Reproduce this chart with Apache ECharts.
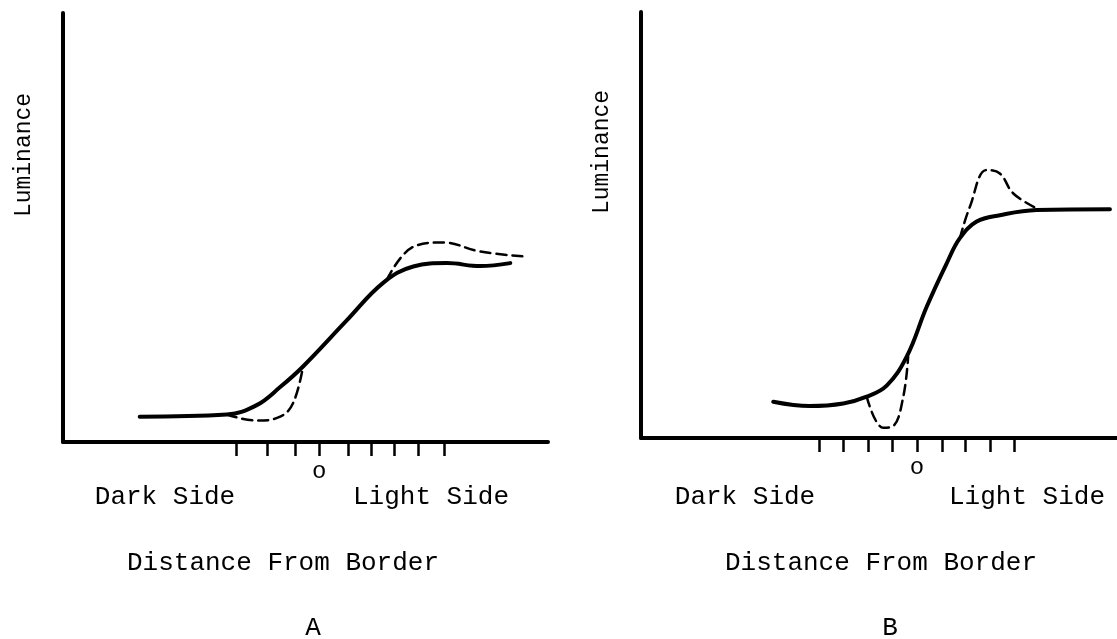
<!DOCTYPE html>
<html>
<head>
<meta charset="utf-8">
<title>Luminance profiles</title>
<script src="https://cdn.jsdelivr.net/npm/echarts@6/dist/echarts.min.js"></script>
<style>
  html, body { margin: 0; padding: 0; background: #fff; }
  #pic_chart { width: 1117px; height: 639px; }
</style>
</head>
<body>
<div id="pic_chart"></div>
<script>
// x in tick units (0 = border), y in luminance units 0..100
var ticksA = [-3.2, -2, -0.9, 0, 1.1, 2, 2.9, 3.8, 4.8];
var ticksB = [-4, -3, -2, -1, 0, 1.05, 2, 3, 4];
var zeroLabel = [0];

var solidA = [[-6.9, 5.9], [-3.55, 6.4], [-2.4, 8.6], [-1.5, 12.8], [-0.62, 17.6], [1.07, 28.4], [2.46, 37.1],
              [3.62, 40.9], [4.91, 41.7], [6.19, 41.0], [7.35, 41.7]];
var dashLowA = [[-3.55, 6.4], [-2.4, 5.0], [-1.5, 5.9], [-1.0, 9.1], [-0.62, 17.6]];
var dashHighA = [[2.6, 37.8], [3.62, 45.5], [4.77, 46.5], [6.19, 44.4], [7.99, 43.2]];

var solidB = [[-5.89, 8.5], [-4.39, 7.5], [-3.02, 8.1], [-2.06, 9.7], [-1.24, 12.3], [-0.42, 19.1],
              [0.4, 30.8], [1.22, 41.0], [1.76, 46.9], [2.45, 50.8], [3.4, 52.3], [4.91, 53.5], [7.91, 53.7]];
var dashLowB = [[-2.06, 9.7], [-1.38, 2.4], [-0.97, 2.8], [-0.56, 9.7], [-0.36, 19.1]];
var dashHighB = [[1.76, 46.9], [2.17, 54.3], [2.86, 62.9], [3.4, 62.1], [3.95, 57.4], [4.91, 53.9]];

var font = '"Liberation Mono", "DejaVu Sans Mono", monospace';
var ink = '#000';

function xAxisFor(idx, min, max, ticks) {
    return {
        type: 'value', gridIndex: idx, min: min, max: max,
        splitLine: { show: false },
        axisLine: { show: true, onZero: false, lineStyle: { color: ink, width: 4, cap: 'round' } },
        axisTick: { show: true, customValues: ticks, length: 14, lineStyle: { color: ink, width: 2.5 } },
        axisLabel: { show: true, customValues: zeroLabel, formatter: function () { return 'o'; },
                     margin: 18, fontFamily: font, fontSize: 24, color: ink }
    };
}
function yAxisFor(idx) {
    return {
        type: 'value', gridIndex: idx, min: 0, max: 100,
        splitLine: { show: false }, axisTick: { show: false }, axisLabel: { show: false },
        axisLine: { show: true, onZero: false, lineStyle: { color: ink, width: 4, cap: 'round' } }
    };
}
function curve(idx, data, dashed) {
    return {
        type: 'line', xAxisIndex: idx, yAxisIndex: idx, data: data,
        smooth: 0.4, symbol: 'none', silent: true,
        lineStyle: dashed ? { color: ink, width: 2.5, type: [10, 6], cap: 'round' }
                          : { color: ink, width: 4, cap: 'round' }
    };
}
function label(x, y, text, size, rot) {
    return {
        type: 'text', x: x, y: y, rotation: rot || 0,
        style: { text: text, fontFamily: font, fontSize: size, fill: ink,
                 align: 'center', verticalAlign: 'middle' }
    };
}

var myChart = echarts.init(document.getElementById('pic_chart'));
var option = {
    backgroundColor: '#fff',
    animation: false,
    grid: [
        { left: 63, top: 13, width: 485, height: 429 },
        { left: 641, top: 12, width: 476, height: 426 }
    ],
    xAxis: [xAxisFor(0, -9.85, 8.8, ticksA), xAxisFor(1, -11.31, 8.2, ticksB)],
    yAxis: [yAxisFor(0), yAxisFor(1)],
    series: [
        curve(0, solidA, false), curve(0, dashLowA, true), curve(0, dashHighA, true),
        curve(1, solidB, false), curve(1, dashLowB, true), curve(1, dashHighB, true)
    ],
    graphic: [
        label(24, 155, 'Luminance', 23, Math.PI / 2),
        label(602, 152, 'Luminance', 23, Math.PI / 2),
        label(165, 497, 'Dark Side', 26),
        label(431, 497, 'Light Side', 26),
        label(745, 497, 'Dark Side', 26),
        label(1027, 497, 'Light Side', 26),
        label(283, 563, 'Distance From Border', 26),
        label(881, 563, 'Distance From Border', 26),
        label(313, 628, 'A', 26),
        label(890, 628, 'B', 26)
    ]
};
myChart.setOption(option);
</script>
</body>
</html>
